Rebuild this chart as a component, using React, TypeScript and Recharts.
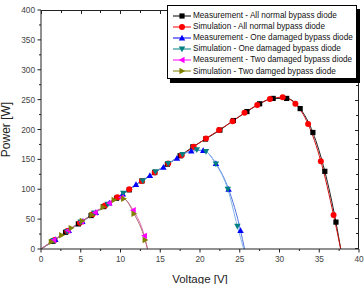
import React from 'react';
import { LineChart, Line, XAxis, YAxis } from 'recharts';

// V [V] vs P [W]
const normalMeas = [
  { v: 0, p: 0 }, { v: 1.5, p: 13 }, { v: 3.1, p: 28 }, { v: 4.7, p: 42 }, { v: 6.3, p: 56 },
  { v: 7.9, p: 71 }, { v: 9.5, p: 85 }, { v: 11.1, p: 99 }, { v: 12.7, p: 114 }, { v: 14.3, p: 128 },
  { v: 15.9, p: 142 }, { v: 17.5, p: 156 }, { v: 19.1, p: 171 }, { v: 20.7, p: 184 }, { v: 22.5, p: 199 },
  { v: 24.2, p: 215 }, { v: 25.9, p: 230 }, { v: 27.5, p: 243 }, { v: 29.2, p: 252 }, { v: 30.9, p: 252 },
  { v: 32.6, p: 235 }, { v: 34.2, p: 195 }, { v: 35.7, p: 130 }, { v: 37.1, p: 45 }, { v: 37.7, p: 0 },
];
const normalSim = [
  { v: 0, p: 0 }, { v: 1.7, p: 15 }, { v: 3.3, p: 30 }, { v: 4.9, p: 44 }, { v: 6.5, p: 58 },
  { v: 8.05, p: 73 }, { v: 9.6, p: 86.5 }, { v: 11.1, p: 100 }, { v: 12.7, p: 114 }, { v: 14.3, p: 128 },
  { v: 16.0, p: 143 }, { v: 17.7, p: 157 }, { v: 19.2, p: 171 }, { v: 20.75, p: 185 }, { v: 22.4, p: 199 },
  { v: 24.1, p: 214 }, { v: 25.6, p: 228 }, { v: 27.2, p: 241 }, { v: 28.8, p: 251 }, { v: 30.4, p: 254 },
  { v: 32.0, p: 243 }, { v: 33.6, p: 209 }, { v: 35.2, p: 147 }, { v: 36.8, p: 57 }, { v: 37.7, p: 0 },
];
const oneMeas = [
  { v: 0, p: 0 }, { v: 1.8, p: 16 }, { v: 3.5, p: 31 }, { v: 5.2, p: 46 }, { v: 6.9, p: 61 },
  { v: 8.6, p: 77 }, { v: 10.3, p: 92 }, { v: 11.95, p: 108 }, { v: 13.7, p: 123 }, { v: 15.4, p: 137 },
  { v: 17.1, p: 152 }, { v: 18.9, p: 164 }, { v: 20.4, p: 165 }, { v: 22.0, p: 143 }, { v: 23.6, p: 100 },
  { v: 25.1, p: 31 }, { v: 25.6, p: 0 },
];
const oneSim = [
  { v: 0, p: 0 }, { v: 1.6, p: 14 }, { v: 3.3, p: 29 }, { v: 5.0, p: 45 }, { v: 6.7, p: 60 },
  { v: 8.4, p: 75 }, { v: 10.35, p: 93 }, { v: 12.8, p: 114 }, { v: 14.4, p: 129 }, { v: 16.0, p: 143 },
  { v: 17.8, p: 158 }, { v: 19.6, p: 166 }, { v: 20.75, p: 163 }, { v: 22.0, p: 142 }, { v: 23.5, p: 100 },
  { v: 24.7, p: 38 }, { v: 25.5, p: 0 },
];
const twoMeas = [
  { v: 0, p: 0 }, { v: 1.6, p: 15 }, { v: 3.4, p: 31 }, { v: 5.1, p: 46 }, { v: 6.8, p: 61 },
  { v: 8.6, p: 77 }, { v: 10.1, p: 86 }, { v: 11.6, p: 65 }, { v: 13.0, p: 22 }, { v: 13.4, p: 0 },
];
const twoSim = [
  { v: 0, p: 0 }, { v: 1.3, p: 12 }, { v: 2.6, p: 23 }, { v: 3.8, p: 35 }, { v: 5.2, p: 47 },
  { v: 6.4, p: 57 }, { v: 7.8, p: 70 }, { v: 9.2, p: 82 }, { v: 10.4, p: 84 }, { v: 11.7, p: 59 },
  { v: 13.1, p: 15 }, { v: 13.4, p: 0 },
];

const xTicks = [0, 2.5, 5, 7.5, 10, 12.5, 15, 17.5, 20, 22.5, 25, 27.5, 30, 32.5, 35, 37.5, 40];
const yTicks = [0, 25, 50, 75, 100, 125, 150, 175, 200, 225, 250, 275, 300, 325, 350, 375, 400];

const series = [
  { name: 'Measurement - All normal bypass diode', data: normalMeas, color: '#000000', line: '#222222', shape: 'square' },
  { name: 'Simulation - All normal bypass diode', data: normalSim, color: '#ff0000', line: '#d01010', shape: 'circle' },
  { name: 'Measurement - One damaged bypass diode', data: oneMeas, color: '#0000ff', line: '#4f74e0', shape: 'up' },
  { name: 'Simulation - One damaged bypass diode', data: oneSim, color: '#008080', line: '#86b4e8', shape: 'down' },
  { name: 'Measurement - Two damaged bypass diode', data: twoMeas, color: '#ff00ff', line: '#e070c0', shape: 'left' },
  { name: 'Simulation - Two damged bypass diode', data: twoSim, color: '#808000', line: '#b07070', shape: 'right' },
];

const FONT = '"Liberation Sans", Arial, sans-serif';
const AXIS = '#222';

// chart box; plot area follows from margin + axis sizes
const W = 364;
const H = 284;
const MARGIN = { top: 10, right: 5, bottom: 0, left: 0 };
const X_AXIS_H = 35;
const Y_AXIS_W = 41;
const plot = {
  left: MARGIN.left + Y_AXIS_W,
  top: MARGIN.top,
  width: W - MARGIN.left - MARGIN.right - Y_AXIS_W,
  height: H - MARGIN.top - MARGIN.bottom - X_AXIS_H,
};

const Marker = ({ cx, cy, shape, color }: any) => {
  const s = 3.2;
  switch (shape) {
    case 'square':
      return <rect x={cx - 2.6} y={cy - 2.6} width={5.2} height={5.2} fill={color} />;
    case 'circle':
      return <circle cx={cx} cy={cy} r={3} fill={color} />;
    case 'up':
      return <polygon points={`${cx},${cy - s} ${cx - s},${cy + s * 0.8} ${cx + s},${cy + s * 0.8}`} fill={color} />;
    case 'down':
      return <polygon points={`${cx},${cy + s} ${cx - s},${cy - s * 0.8} ${cx + s},${cy - s * 0.8}`} fill={color} />;
    case 'left':
      return <polygon points={`${cx - s},${cy} ${cx + s * 0.8},${cy - s} ${cx + s * 0.8},${cy + s}`} fill={color} />;
    default:
      return <polygon points={`${cx + s},${cy} ${cx - s * 0.8},${cy - s} ${cx - s * 0.8},${cy + s}`} fill={color} />;
  }
};

const makeDot = (shape: string, color: string) => (props: any) => {
  const { cx, cy, payload, index } = props;
  if (!payload || payload.p === 0) return <g key={index} />;
  return <g key={index}><Marker cx={cx} cy={cy} shape={shape} color={color} /></g>;
};

const BottomTick = ({ x, y, payload }: any) => {
  const major = payload.value % 5 === 0;
  return (
    <g>
      <line x1={x} y1={y} x2={x} y2={y + (major ? 3.5 : 2)} stroke={AXIS} />
      {major && (
        <text x={x} y={y + 13} textAnchor="middle" fontSize={8.3} fill="#444" fontFamily={FONT}>
          {payload.value}
        </text>
      )}
    </g>
  );
};

const LeftTick = ({ x, y, payload }: any) => {
  const major = payload.value % 50 === 0;
  return (
    <g>
      <line x1={x} y1={y} x2={x - (major ? 3.5 : 2)} y2={y} stroke={AXIS} />
      {major && (
        <text x={x - 6} y={y + 3} textAnchor="end" fontSize={8.3} fill="#444" fontFamily={FONT}>
          {payload.value}
        </text>
      )}
    </g>
  );
};

// top and right side of the box frame as plain html borders, ticks pointing inwards
const Frame = () => {
  const xMax = xTicks[xTicks.length - 1];
  const yMax = yTicks[yTicks.length - 1];
  return (
    <div
      style={{
        position: 'absolute', left: plot.left, top: plot.top, width: plot.width, height: plot.height,
        borderTop: `1px solid ${AXIS}`, borderRight: `1px solid ${AXIS}`, boxSizing: 'border-box',
        pointerEvents: 'none', zIndex: 1,
      }}
    >
      {xTicks.map((t) => (
        <div
          key={`t${t}`}
          style={{
            position: 'absolute', top: 0, width: 1, background: AXIS,
            left: Math.round((t / xMax) * (plot.width - 1)), height: t % 5 === 0 ? 3 : 2,
          }}
        />
      ))}
      {yTicks.map((t) => (
        <div
          key={`r${t}`}
          style={{
            position: 'absolute', right: 0, height: 1, background: AXIS,
            top: Math.round((1 - t / yMax) * (plot.height - 2)), width: t % 50 === 0 ? 3 : 2,
          }}
        />
      ))}
    </div>
  );
};

const LegendBox = () => (
  <div
    style={{
      position: 'absolute', left: 167, top: 5, width: 188, height: 68, zIndex: 2,
      border: '1px solid #000', boxShadow: '3px 4px 0 #000', background: '#fff',
      fontFamily: FONT, fontSize: 8.2, color: '#111', paddingTop: 4,
    }}
  >
    {series.map((s) => (
      <div key={s.name} style={{ height: 11.1, display: 'flex', alignItems: 'center', whiteSpace: 'nowrap' }}>
        <svg width={20} height={10} style={{ marginLeft: 4, marginRight: 1, flexShrink: 0 }}>
          <line x1={1} y1={5} x2={19} y2={5} stroke={s.color} strokeWidth={1} />
          <Marker cx={10} cy={5} shape={s.shape} color={s.color} />
        </svg>
        <span>{s.name}</span>
      </div>
    ))}
  </div>
);

const App: React.FC = () => {
  return (
    <div style={{ position: 'absolute', left: 0, top: 0, width: W, height: H, background: '#fff' }}>
      <LineChart width={W} height={H} margin={MARGIN}>
        <XAxis
          dataKey="v" type="number" domain={[0, 40]} ticks={xTicks} interval={0}
          height={X_AXIS_H} tickSize={0} tickMargin={0} stroke={AXIS} tickLine={false}
          tick={<BottomTick />} allowDataOverflow
          label={{ value: 'Voltage [V]', position: 'insideBottom', offset: 1, fontSize: 11.5, fill: '#222', fontFamily: FONT }}
        />
        <YAxis
          type="number" domain={[0, 400]} ticks={yTicks} interval={0} width={Y_AXIS_W}
          tickSize={0} tickMargin={0} stroke={AXIS} tickLine={false} tick={<LeftTick />} allowDataOverflow
          label={{ value: 'Power [W]', angle: -90, position: 'insideLeft', offset: 6, fontSize: 12, fill: '#222', fontFamily: FONT, style: { textAnchor: 'middle' } }}
        />
        {series.map((s) => (
          <Line
            key={s.name}
            data={s.data}
            dataKey="p"
            name={s.name}
            type="monotone"
            stroke={s.line}
            strokeWidth={1}
            dot={makeDot(s.shape, s.color)}
            activeDot={false}
            isAnimationActive={false}
          />
        ))}
      </LineChart>
      <Frame />
      <LegendBox />
    </div>
  );
};

export default App;
